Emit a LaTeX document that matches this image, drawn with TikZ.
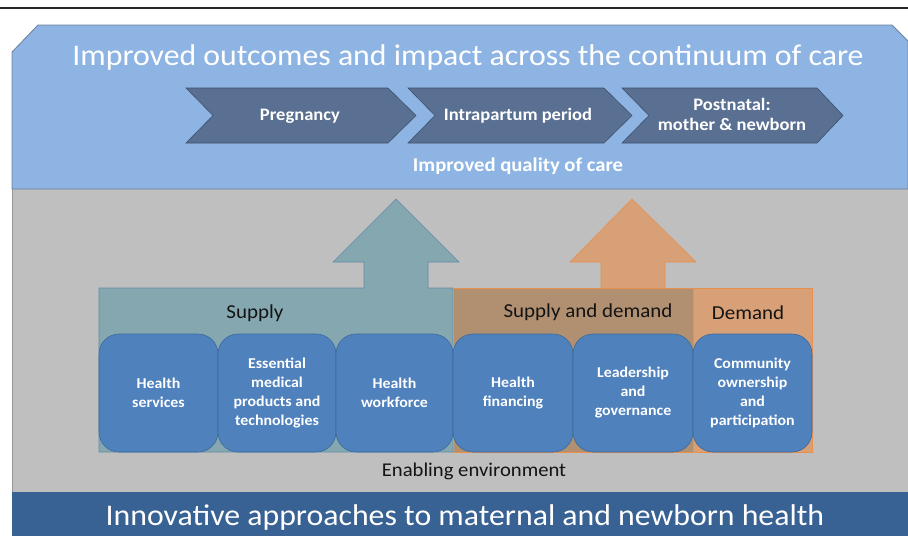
\documentclass[tikz,border=0pt]{standalone}
\usepackage{fontspec}
\setmainfont[FakeStretch=1.06]{Carlito}
\definecolor{panelblue}{RGB}{141,180,226}
\definecolor{panelbord}{RGB}{110,128,155}
\definecolor{chevfill}{RGB}{89,112,146}
\definecolor{chevbord}{RGB}{62,80,108}
\definecolor{envgray}{RGB}{191,191,191}
\definecolor{envbord}{RGB}{150,150,150}
\definecolor{supplyfill}{RGB}{132,167,176}
\definecolor{supplybord}{RGB}{100,140,165}
\definecolor{sdfill}{RGB}{176,144,112}
\definecolor{demfill}{RGB}{216,160,118}
\definecolor{orbord}{RGB}{232,144,80}
\definecolor{boxfill}{RGB}{79,129,189}
\definecolor{boxbord}{RGB}{60,105,155}
\definecolor{bandblue}{RGB}{56,97,148}
\definecolor{darktext}{RGB}{20,20,20}
\tikzset{
  chev/.style={fill=chevfill, draw=chevbord, line width=0.6pt},
  pillar/.style={fill=boxfill, draw=boxbord, line width=0.6pt, rounded corners=20pt},
  chevtext/.style={text=white, font=\bfseries\fontsize{17.5}{20}\selectfont, align=center, inner sep=0pt},
  boxtext/.style={text=white, font=\bfseries\fontsize{15}{19}\selectfont, align=center, inner sep=0pt},
  bigtext/.style={text=white, font=\fontsize{30}{34}\selectfont, inner sep=0pt},
  grouptext/.style={text=darktext, font=\fontsize{19.8}{22}\selectfont, inner sep=0pt},
}
\begin{document}
\begin{tikzpicture}[x=1pt,y=-1pt]
\useasboundingbox (0,0) rectangle (908,536);
\fill[white] (0,0) rectangle (908,536);
\draw[line width=1.5pt, black!85] (0,8) -- (908,8);
% enabling environment (gray)
\fill[envgray] (12,189) rectangle (908,492);
\draw[envbord, line width=1pt] (12,492) -- (12,189);
% top panel
\filldraw[fill=panelblue, draw=panelbord, line width=0.8pt]
  (12,189) -- (12,52) -- (38,25) -- (892,25) -- (908,41) -- (908,189) -- cycle;
\node[bigtext] (title) at (468,57) {Improved outcomes and impact across the continuum of care};
% chevrons
\path[chev] (186,88) -- (388,88) -- (416,115.5) -- (388,143) -- (186,143) -- (213,115.5) -- cycle;
\path[chev] (408,88) -- (604,88) -- (632,115.5) -- (604,143) -- (408,143) -- (435,115.5) -- cycle;
\path[chev] (622,88) -- (817,88) -- (843,115.5) -- (817,143) -- (622,143) -- (649,115.5) -- cycle;
\node[chevtext] (preg) at (300,116) {Pregnancy};
\node[chevtext] (intra) at (518,116) {Intrapartum period};
\node[chevtext] (post) at (732,114) {Postnatal:\\mother \& newborn};
\node[chevtext, font=\bfseries\fontsize{19.5}{22}\selectfont] (quality) at (518,166) {Improved quality of care};
% supply shape with arrow
\filldraw[fill=supplyfill, draw=supplybord, line width=0.6pt]
  (99,452) -- (99,288) -- (364,288) -- (364,262) -- (333,262) -- (396,199) -- (459,262)
  -- (428,262) -- (428,288) -- (453,288) -- (453,452) -- cycle;
% orange arrow
\filldraw[fill=demfill, draw=orbord, line width=0.6pt]
  (601,289) -- (601,262) -- (570,262) -- (632,199) -- (696,262) -- (665,262) -- (665,289);
% supply and demand / demand
\filldraw[fill=sdfill, draw=orbord, line width=0.6pt] (453,288) rectangle (693,452);
\filldraw[fill=demfill, draw=orbord, line width=0.6pt] (693,288) rectangle (812,452);
\node[grouptext] (supply) at (255,313) {Supply};
\node[grouptext] (sd) at (588,312) {Supply and demand};
\node[grouptext] (demand) at (748,313) {Demand};
% pillars
\path[pillar] (99,334) rectangle (218,452);
\path[pillar] (218,334) rectangle (336,452);
\path[pillar] (336,334) rectangle (453,452);
\path[pillar] (453,334) rectangle (573,452);
\path[pillar] (573,334) rectangle (693,452);
\path[pillar] (693,334) rectangle (812,452);
\node[boxtext] (hs) at (158.5,393) {Health\\services};
\node[boxtext] (emp) at (277,393) {Essential\\medical\\products and\\technologies};
\node[boxtext] (hw) at (394.5,393) {Health\\workforce};
\node[boxtext] (hf) at (513,393) {Health\\financing};
\node[boxtext] (lg) at (633,393) {Leadership\\and\\governance};
\node[boxtext] (cop) at (752.5,393) {Community\\ownership\\and\\participation};
\node[text=darktext, font=\fontsize{19.5}{22}\selectfont, inner sep=0pt] (env) at (474,471) {Enabling environment};
% bottom band
\fill[bandblue] (12,492) rectangle (908,536);
\node[bigtext] (innov) at (465,517) {Innovative approaches to maternal and newborn health};
\end{tikzpicture}
\end{document}
